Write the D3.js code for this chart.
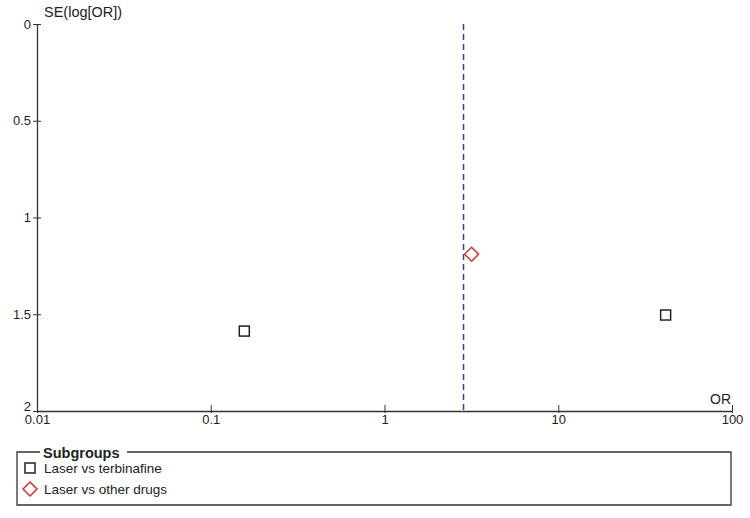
<!DOCTYPE html>
<html>
<head>
<meta charset="utf-8">
<script src="https://cdn.jsdelivr.net/npm/d3@7"></script>
<style>
  body { margin: 0; background: #fff; }
  svg { font-family: "Liberation Sans", Arial, sans-serif; font-size: 13px; }
  .axis path, .axis line { stroke: #333; }
  .axis text { fill: #222; font-size: 13px; }
</style>
</head>
<body>
<div id="chartDiv"></div>
<script>
// funnel plot data
const studies = ["Laser vs terbinafine A", "Laser vs terbinafine B", "Laser vs other drugs"];
const orValues = [0.156, 41.5, 3.17];
const seValues = [1.587, 1.504, 1.19];
const groups = ["terb", "terb", "other"];
const pooledOR = 2.85;

const xTicks = [0.01, 0.1, 1, 10, 100];
const yTicks = [0, 0.5, 1, 1.5, 2];
const legendItems = [
  { key: "terb", label: "Laser vs terbinafine" },
  { key: "other", label: "Laser vs other drugs" }
];

const width = 750, height = 518;
const margin = { left: 37, right: 18, top: 24, bottom: 107 };

let svgObj = d3.select('#chartDiv').append('svg')
  .attr('width', width)
  .attr('height', height);

const xScale = d3.scaleLog().domain([0.01, 100]).range([margin.left, width - margin.right]);
const yScale = d3.scaleLinear().domain([0, 2]).range([margin.top, height - margin.bottom]);

// y axis (ticks cross the line)
const yAxisG = svgObj.append('g')
  .attr('class', 'axis')
  .attr('transform', `translate(${margin.left},0)`)
  .call(d3.axisLeft(yScale).tickValues(yTicks).tickFormat(d => d).tickSize(4).tickSizeOuter(0));
yAxisG.selectAll('.tick line').attr('x1', 4).attr('x2', -4);
yAxisG.selectAll('.tick text').attr('x', -6);
// the "2" sits just above the "0.01" label
yAxisG.selectAll('.tick text').filter(d => d === 2).attr('dy', '-0.05em');
yAxisG.select('.domain').attr('stroke-width', 1.3);

// x axis, ticks go upward, labels below
const xAxisG = svgObj.append('g')
  .attr('class', 'axis')
  .attr('transform', `translate(0,${yScale(2)})`)
  .call(d3.axisBottom(xScale).tickValues(xTicks).tickFormat(d => d).tickSizeOuter(0));
xAxisG.selectAll('.tick line').attr('y1', -6).attr('y2', 2);
xAxisG.selectAll('.tick text').attr('y', 4);
xAxisG.select('.domain').attr('stroke-width', 1.3);

// axis titles
svgObj.append('text')
  .attr('x', 44).attr('y', 17)
  .attr('fill', '#222')
  .attr('font-size', 14.5)
  .text('SE(log[OR])');
svgObj.append('text')
  .attr('x', xScale(100) - 1).attr('y', yScale(2) - 7)
  .attr('text-anchor', 'end')
  .attr('fill', '#222')
  .attr('font-size', 14)
  .text('OR');

// pooled estimate line
svgObj.append('line')
  .attr('x1', xScale(pooledOR)).attr('x2', xScale(pooledOR))
  .attr('y1', yScale(0)).attr('y2', yScale(2))
  .attr('stroke', '#3a3aa8')
  .attr('stroke-width', 1.5)
  .attr('stroke-dasharray', '6,4');

function drawMarker(g, key, cx, cy) {
  if (key === 'terb') {
    g.append('rect')
      .attr('x', cx - 5).attr('y', cy - 5)
      .attr('width', 10).attr('height', 10)
      .attr('fill', 'none').attr('stroke', '#222').attr('stroke-width', 1.5);
  } else {
    const r = 7;
    g.append('path')
      .attr('d', `M${cx - r},${cy}L${cx},${cy - r}L${cx + r},${cy}L${cx},${cy + r}Z`)
      .attr('fill', 'none').attr('stroke', '#cc3333').attr('stroke-width', 1.5);
  }
}

const pts = svgObj.append('g');
studies.forEach((s, i) => {
  drawMarker(pts, groups[i], xScale(orValues[i]), yScale(seValues[i]));
});

// legend box
const lg = svgObj.append('g');
const lx0 = 17, lx1 = 731, ly0 = 452, ly1 = 505;
lg.append('path')
  .attr('d', `M40,${ly0}L${lx0},${ly0}L${lx0},${ly1}L${lx1},${ly1}L${lx1},${ly0}L127,${ly0}`)
  .attr('fill', 'none').attr('stroke', '#333').attr('stroke-width', 1.3);
lg.append('text')
  .attr('x', 43).attr('y', 458)
  .attr('font-weight', 'bold').attr('font-size', 14.5)
  .attr('fill', '#222')
  .text('Subgroups');
legendItems.forEach((d, i) => {
  const cy = 468 + i * 21;
  drawMarker(lg, d.key, 30, cy);
  lg.append('text')
    .attr('x', 44).attr('y', cy + 5)
    .attr('fill', '#222')
    .attr('font-size', 13.5)
    .text(d.label);
});
</script>
</body>
</html>
